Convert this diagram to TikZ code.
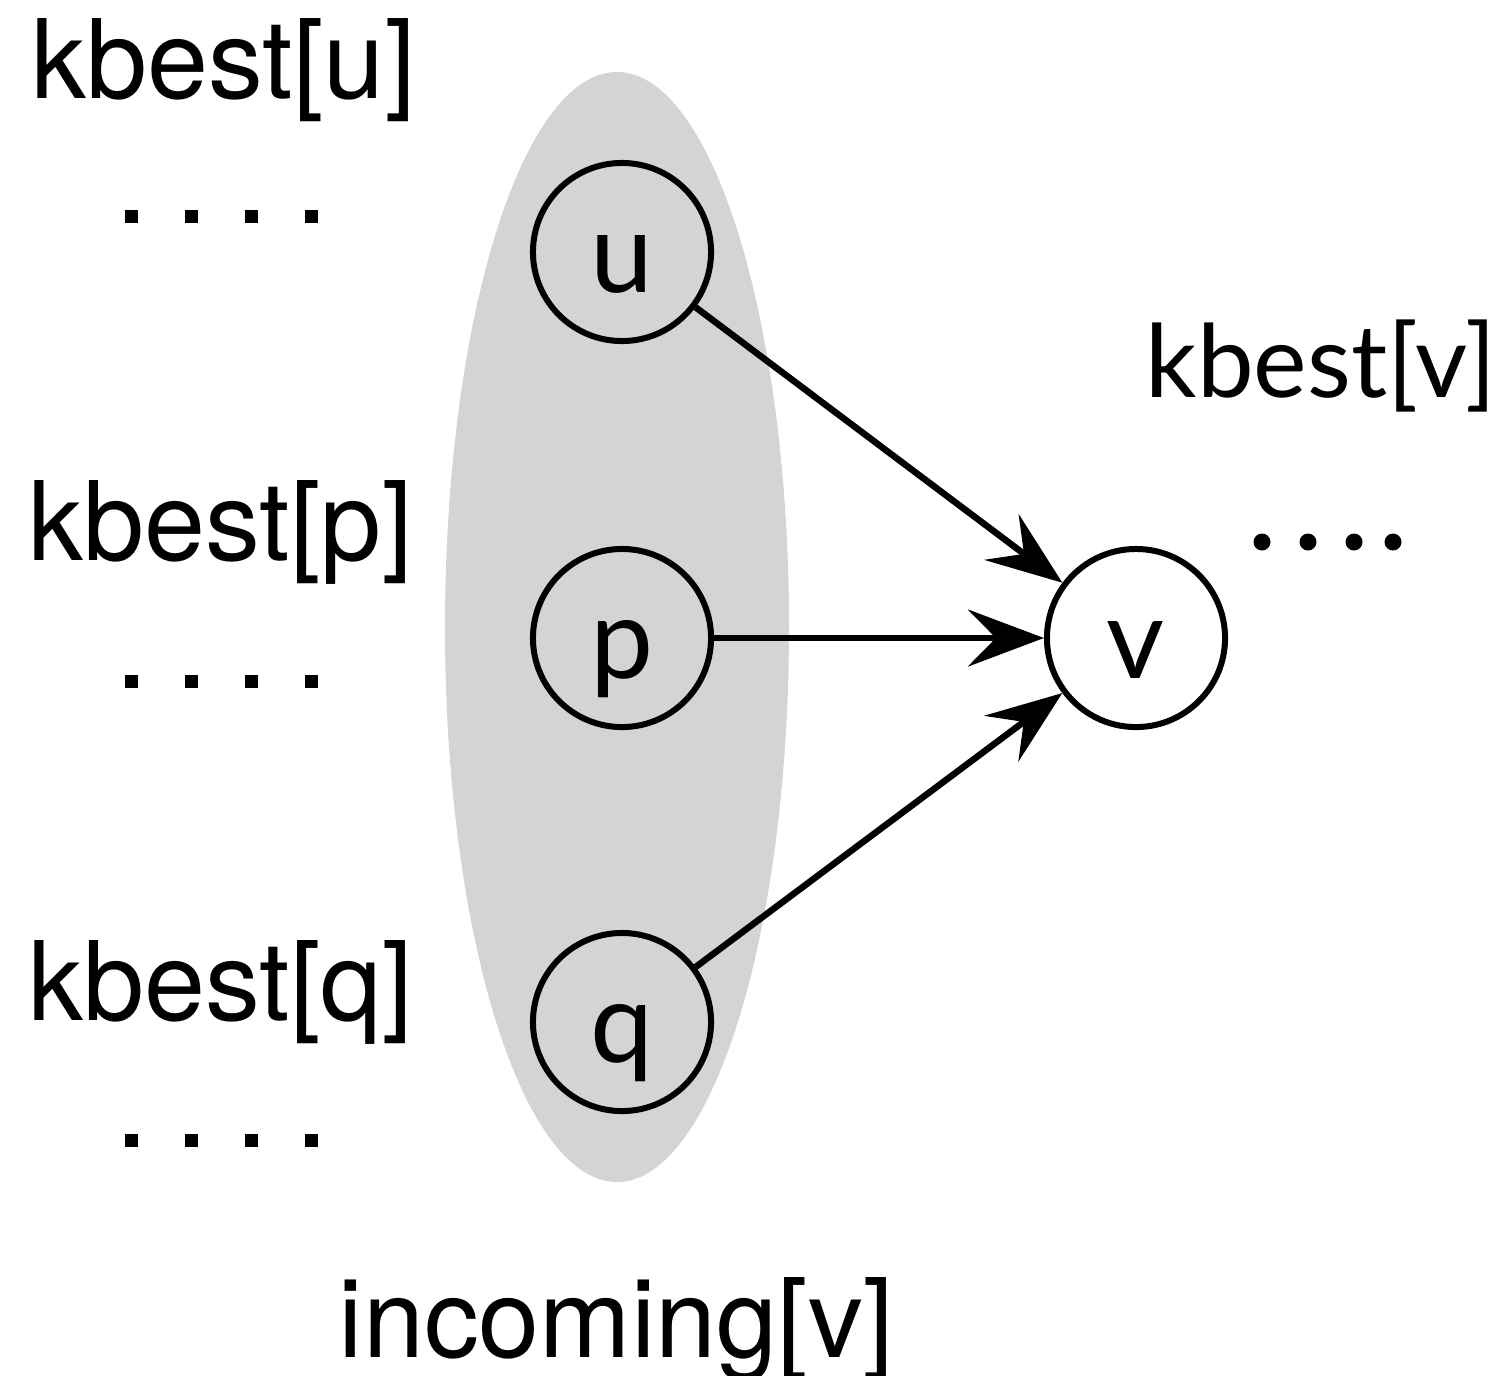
\documentclass[tikz,border=0pt]{standalone}
\usepackage{xcolor}
\usepackage{tikz}
\usepackage{fontspec}
\setmainfont{TeX Gyre Heros}
\newfontfamily\gillfont{Lato}
\usetikzlibrary{arrows.meta}
\definecolor{setgray}{RGB}{212,212,212}

\begin{document}
\begin{tikzpicture}[x=0.01cm,y=-0.01cm,
    vertex/.style={shape=circle,draw,line width=0.06cm,minimum size=1.78cm,inner sep=0pt,
      text height=0.8cm,text depth=0cm,font=\gillfont\fontsize{32}{36}\selectfont},
    listname/.style={anchor=base west,inner sep=0pt,font=\fontsize{31.2}{36}\selectfont},
    edgearrow/.style={line width=0.065cm,-{Stealth[length=0.76cm,width=0.57cm,inset=0.28cm]}}]
  \useasboundingbox (0,0) rectangle (1501,1375);
  % the set of incoming nodes
  \fill[setgray] (617,627) ellipse [x radius=172, y radius=555];
  \node[vertex] (u) at (622,252) {u};
  \node[vertex] (p) at (622,638) {p};
  \node[vertex] (q) at (622,1022) {q};
  \node[vertex] (v) at (1136,638) {v};
  % lists
  \node[listname] (ku) at (31,98) {kbest[u]};
  \node[listname] (kp) at (28,560) {kbest[p]};
  \node[listname] (kq) at (28,1020) {kbest[q]};
  \node[listname,font=\gillfont\fontsize{28.8}{36}\selectfont] (kv) at (1145,397) {kbest[v]};
  \node[listname] (inc) at (338,1357) {incoming[v]};
  \foreach \y in {216,681,1140}
    \foreach \x in {131,191,251,311}
      \fill (\x-6.5,\y-6.5) rectangle ++(13,13);
  \foreach \x in {1262,1308,1354,1393}
    \fill (\x,542) circle [radius=8.5];
  % edges
  \draw[edgearrow] (u) -- (v);
  \draw[edgearrow] (p) -- (v);
  \draw[edgearrow] (q) -- (v);
\end{tikzpicture}
\end{document}
